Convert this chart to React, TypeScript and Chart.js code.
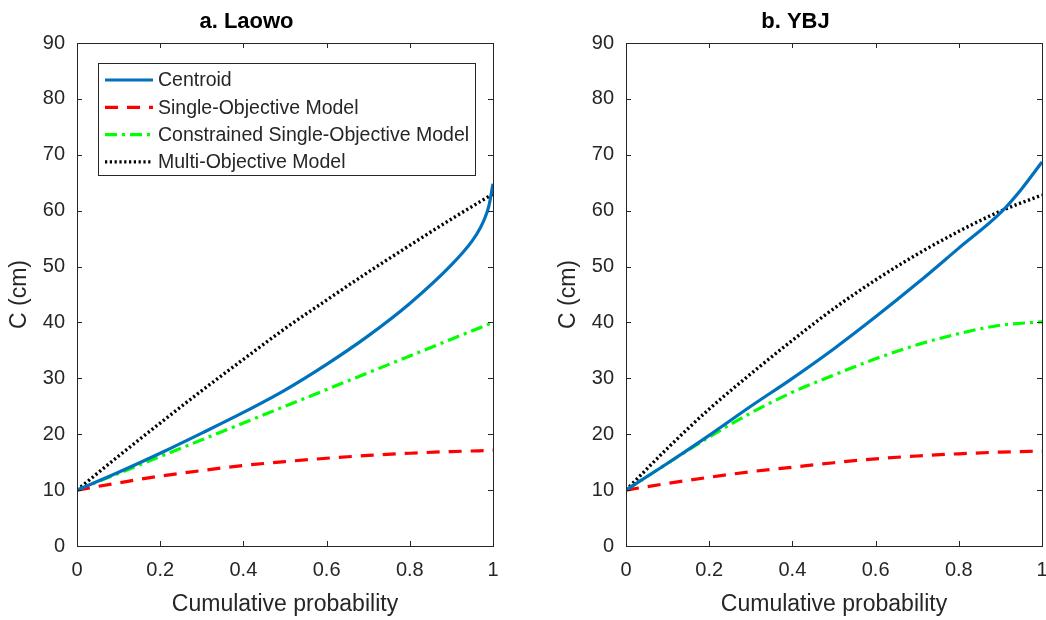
import React, { useEffect, useRef } from "react";
import { Chart, registerables } from "chart.js";

Chart.register(...registerables);

// ---------- data ----------
const probGrid = [0, 0.1, 0.2, 0.3, 0.4, 0.5, 0.6, 0.7, 0.8, 0.9, 1];

const centroidProbsA = [0, 0.1, 0.2, 0.3, 0.4, 0.5, 0.6, 0.7, 0.8, 0.9, 0.95, 0.97, 0.98, 0.99, 1];
const centroidA = [10, 13.2, 16.6, 20.2, 23.9, 27.9, 32.5, 37.6, 43.4, 50.3, 54.6, 57, 58.6, 60.8, 64.8];
const singleA = [10, 11.3, 12.5, 13.5, 14.4, 15.1, 15.7, 16.2, 16.6, 16.9, 17.1];
const constrainedA = [10, 13, 16, 19, 22, 25, 28, 31, 34, 37, 40];
const multiA = [10, 16.1, 22, 27.8, 33.4, 38.9, 44, 49, 53.8, 58.5, 63];

const centroidProbsB = [0, 0.1, 0.2, 0.3, 0.4, 0.5, 0.6, 0.7, 0.8, 0.9, 0.95, 1];
const centroidB = [10, 14.8, 19.8, 25, 30, 35.3, 41, 47, 53.3, 59.6, 63.8, 68.7];
const singleB = [10, 11.2, 12.3, 13.3, 14.1, 14.9, 15.6, 16.1, 16.5, 16.8, 17];
const constrainedB = [10, 14.8, 19.5, 23.8, 27.5, 30.6, 33.5, 36, 38, 39.5, 40.1];
const multiB = [10, 17.5, 24.5, 30.8, 36.8, 42.5, 47.6, 52.2, 56.3, 59.9, 62.8];

const seriesNames = [
  "Centroid",
  "Single-Objective Model",
  "Constrained Single-Objective Model",
  "Multi-Objective Model",
];
const panelTitles = ["a. Laowo", "b. YBJ"];
const xTitle = "Cumulative probability";
const yTitle = "C (cm)";
const xTicks = [0, 0.2, 0.4, 0.6, 0.8, 1];
const yTicks = [0, 10, 20, 30, 40, 50, 60, 70, 80, 90];

const FONT = "'Liberation Sans', Arial, Helvetica, sans-serif";

const styles = [
  { color: "#0072BD", dash: [] as number[], width: 3.2 },
  { color: "#FF0000", dash: [13, 9], width: 3.2 },
  { color: "#00FF00", dash: [12, 5, 3, 5], width: 3.2 },
  { color: "#000000", dash: [2.2, 2.6], width: 3.4 },
];

const zip = (xs: number[], ys: number[]) => xs.map((x, i) => ({ x, y: ys[i] }));

const boxPlugin = {
  id: "matlabBox",
  afterDatasetsDraw(chart: any) {
    const { ctx, chartArea: a, scales } = chart;
    ctx.save();
    ctx.strokeStyle = "#262626";
    ctx.lineWidth = 1;
    ctx.setLineDash([]);
    ctx.beginPath();
    const tl = 5;
    scales.x.ticks.forEach((t: any) => {
      const px = Math.round(scales.x.getPixelForValue(t.value)) + 0.5;
      ctx.moveTo(px, a.bottom);
      ctx.lineTo(px, a.bottom - tl);
      ctx.moveTo(px, a.top);
      ctx.lineTo(px, a.top + tl);
    });
    scales.y.ticks.forEach((t: any) => {
      const py = Math.round(scales.y.getPixelForValue(t.value)) + 0.5;
      ctx.moveTo(a.left, py);
      ctx.lineTo(a.left + tl, py);
      ctx.moveTo(a.right, py);
      ctx.lineTo(a.right - tl, py);
    });
    ctx.stroke();
    ctx.strokeRect(Math.round(a.left) + 0.5, Math.round(a.top) + 0.5, Math.round(a.right - a.left), Math.round(a.bottom - a.top));
    ctx.restore();
  },
};

const legendPlugin = {
  id: "matlabLegend",
  afterDraw(chart: any, _args: any, opts: any) {
    if (!opts || !opts.show) return;
    const { ctx } = chart;
    const x0 = 98, y0 = 63, w = 377, h = 112;
    ctx.save();
    ctx.fillStyle = "#ffffff";
    ctx.fillRect(x0, y0, w, h);
    ctx.strokeStyle = "#262626";
    ctx.lineWidth = 1;
    ctx.setLineDash([]);
    ctx.strokeRect(x0 + 0.5, y0 + 0.5, w, h);
    ctx.font = `19.5px ${FONT}`;
    ctx.textBaseline = "middle";
    ctx.textAlign = "left";
    chart.data.datasets.forEach((ds: any, i: number) => {
      const y = y0 + 17 + i * 27.3;
      ctx.strokeStyle = ds.borderColor;
      ctx.lineWidth = ds.borderWidth;
      ctx.setLineDash(ds.borderDash || []);
      ctx.beginPath();
      ctx.moveTo(105, y);
      ctx.lineTo(153, y);
      ctx.stroke();
      ctx.fillStyle = "#262626";
      ctx.fillText(ds.label, 158, y + 1);
    });
    ctx.restore();
  },
};

function makeConfig(title: string, series: { x: number[]; y: number[] }[], showLegend: boolean, padRight: number) {
  return {
    type: "line" as const,
    data: {
      datasets: series.map((s, i) => ({
        label: seriesNames[i],
        data: zip(s.x, s.y),
        borderColor: styles[i].color,
        backgroundColor: styles[i].color,
        borderDash: styles[i].dash,
        borderWidth: styles[i].width,
        pointRadius: 0,
        cubicInterpolationMode: "monotone" as const,
        fill: false,
      })),
    },
    options: {
      responsive: false,
      animation: false as const,
      devicePixelRatio: 1,
      layout: { padding: { left: 0, right: padRight, top: 0, bottom: 0 } },
      plugins: {
        legend: { display: false },
        tooltip: { enabled: false },
        title: {
          display: true,
          text: title,
          color: "#000000",
          font: { family: FONT, size: 22, weight: "bold" as const },
          padding: { top: 9, bottom: 7.6 },
        },
        matlabLegend: { show: showLegend },
      },
      scales: {
        x: {
          type: "linear" as const,
          min: 0,
          max: 1,
          afterBuildTicks: (scale: any) => {
            scale.ticks = xTicks.map((v) => ({ value: v }));
          },
          afterFit: (scale: any) => {
            scale.height = 74;
            scale.paddingLeft = 0;
            scale.paddingRight = 0;
          },
          grid: { display: false, drawTicks: false },
          border: { display: false },
          ticks: {
            color: "#262626",
            font: { family: FONT, size: 20 },
            padding: 12,
            maxRotation: 0,
            autoSkip: false,
            callback: (v: any) => String(v),
          },
          title: {
            display: true,
            text: xTitle,
            color: "#262626",
            font: { family: FONT, size: 23 },
            padding: { top: 0, bottom: 2 },
          },
        },
        y: {
          type: "linear" as const,
          min: 0,
          max: 90,
          afterBuildTicks: (scale: any) => {
            scale.ticks = yTicks.map((v) => ({ value: v }));
          },
          afterFit: (scale: any) => {
            scale.width = 77;
            scale.paddingTop = 0;
            scale.paddingBottom = 0;
          },
          grid: { display: false, drawTicks: false },
          border: { display: false },
          ticks: {
            color: "#262626",
            font: { family: FONT, size: 20 },
            padding: 12,
            autoSkip: false,
            callback: (v: any) => String(v),
          },
          title: {
            display: true,
            text: yTitle,
            color: "#262626",
            font: { family: FONT, size: 23 },
            padding: { top: 6, bottom: 0 },
          },
        },
      },
    },
    plugins: [boxPlugin, legendPlugin],
  };
}

function Panel(props: { left: number; width: number; padRight: number; title: string; series: { x: number[]; y: number[] }[]; legend: boolean }) {
  const ref = useRef<HTMLCanvasElement | null>(null);
  useEffect(() => {
    if (!ref.current) return;
    const chart = new Chart(ref.current, makeConfig(props.title, props.series, props.legend, props.padRight) as any);
    return () => chart.destroy();
  }, []);
  return (
    <canvas
      ref={ref}
      width={props.width}
      height={620}
      style={{ position: "absolute", left: props.left, top: 0, width: props.width, height: 620 }}
    />
  );
}

export default function App() {
  const seriesA = [
    { x: centroidProbsA, y: centroidA },
    { x: probGrid, y: singleA },
    { x: probGrid, y: constrainedA },
    { x: probGrid, y: multiA },
  ];
  const seriesB = [
    { x: centroidProbsB, y: centroidB },
    { x: probGrid, y: singleB },
    { x: probGrid, y: constrainedB },
    { x: probGrid, y: multiB },
  ];
  return (
    <div style={{ position: "absolute", left: 0, top: 0, width: 1046, height: 620, background: "#ffffff", overflow: "hidden" }}>
      <Panel left={0} width={523} padRight={30} title={panelTitles[0]} series={seriesA} legend={true} />
      <Panel left={549} width={497} padRight={4} title={panelTitles[1]} series={seriesB} legend={false} />
    </div>
  );
}
